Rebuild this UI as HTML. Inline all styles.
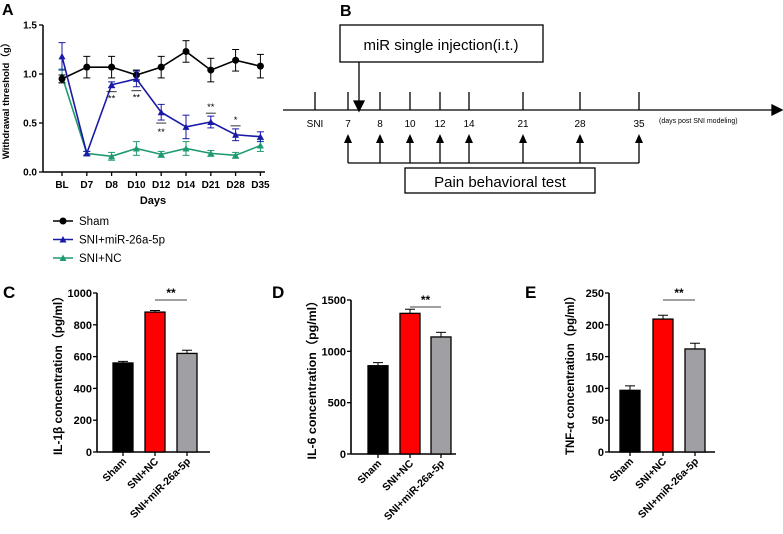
<!DOCTYPE html>
<html><head><meta charset="utf-8"><style>
body{margin:0;background:#fff;width:783px;height:534px;overflow:hidden}
svg{display:block;font-family:"Liberation Sans",Arial,sans-serif}
.b{font-weight:bold}
</style></head><body>
<svg id="s" width="783" height="534" viewBox="0 0 783 534" xmlns="http://www.w3.org/2000/svg">
<g stroke="#000" fill="none" stroke-width="1.3">
<rect x="340" y="25" width="203" height="37"/>
<line x1="359" y1="62" x2="359" y2="104"/>
<polygon points="354,101 364,101 359,111" fill="#000"/>
<line x1="283" y1="110" x2="775" y2="110"/>
<polygon points="772,105 782,110 772,115" fill="#000"/>
<line x1="348" y1="163" x2="639" y2="163"/>
<rect x="405" y="168" width="190" height="25"/>
</g>
<text x="340" y="16" font-size="16" class="b">B</text>
<text x="441" y="50" text-anchor="middle" font-size="15">miR single injection(i.t.)</text>
<text x="500" y="187" text-anchor="middle" font-size="15">Pain behavioral test</text>
<text x="659" y="123" font-size="7">(days post SNI modeling)</text>
<g id="tl"></g>
<g id="A"></g><g id="C"></g><g id="D"></g><g id="E"></g>
</svg>
<script>
const NS="http://www.w3.org/2000/svg";
function mk(p,t,a,txt){const e=document.createElementNS(NS,t);for(const k in a)e.setAttribute(k,a[k]);if(txt!==undefined)e.textContent=txt;p.appendChild(e);return e;}
// timeline
const tlLabels=["SNI","7","8","10","12","14","21","28","35"];
const tlX=[315,348,380,410,440,469,523,580,639];
const tl=document.getElementById('tl');
tlLabels.forEach((l,i)=>{
 const ln=mk(tl,'line',{x1:tlX[i],y1:92,x2:tlX[i],y2:110,stroke:'#000','stroke-width':1.3});
 
 
 const t=mk(tl,'text',{x:tlX[i],y:127,'text-anchor':'middle','font-size':10},l);
 
 
 if(i>0){
  const a=mk(tl,'line',{x1:tlX[i],y1:163,x2:tlX[i],y2:140,stroke:'#000','stroke-width':1.3});
  
  
  mk(tl,'polygon',{points:`${tlX[i]-4},143 ${tlX[i]+4},143 ${tlX[i]},134`,fill:'#000'});
 }
});

// Panel A data
const days=["BL","D7","D8","D10","D12","D14","D21","D28","D35"];
const sham=[0.95,1.07,1.07,0.99,1.07,1.23,1.04,1.14,1.08];
const shamErr=[0.04,0.11,0.11,0.05,0.11,0.11,0.12,0.11,0.12];
const mir=[1.18,0.19,0.89,0.95,0.61,0.46,0.51,0.38,0.36];
const mirErr=[0.14,0.02,0.03,0.08,0.08,0.12,0.06,0.06,0.05];
const nc=[0.98,0.19,0.16,0.24,0.18,0.24,0.19,0.17,0.27];
const ncErr=[0.07,0.02,0.04,0.07,0.03,0.07,0.03,0.03,0.06];
const aTicks=[0,0.5,1.0,1.5];
const sig=[["",0],["",0],["**",1],["**",1],["**",-1],["",0],["**",1],["*",1],["",0]];

const A=document.getElementById('A');
const ax=i=>62+i*24.8, ay=v=>172-v*98;
mk(A,'text',{x:2,y:15,'font-size':16,'class':'b'},'A');
mk(A,'line',{x1:43,y1:ay(1.5),x2:43,y2:172,stroke:'#000','stroke-width':1.5});
mk(A,'line',{x1:43,y1:172,x2:265,y2:172,stroke:'#000','stroke-width':1.5});
aTicks.forEach(v=>{mk(A,'line',{x1:39,y1:ay(v),x2:43,y2:ay(v),stroke:'#000','stroke-width':1.3});
 const t=mk(A,'text',{x:37,y:ay(v)+3.5,'text-anchor':'end','font-size':10,'class':'b'},v.toFixed(1));
 });
days.forEach((d,i)=>{mk(A,'line',{x1:ax(i),y1:172,x2:ax(i),y2:176,stroke:'#000','stroke-width':1.3});
 const t=mk(A,'text',{x:ax(i),y:188,'text-anchor':'middle','font-size':10,'class':'b'},d);
 });
const at=mk(A,'text',{x:153,y:204,'text-anchor':'middle','font-size':11,'class':'b'},'Days');

const yt=mk(A,'text',{x:0,y:0,'text-anchor':'middle','font-size':9.5,'class':'b',transform:`translate(9,${ay(0.75)}) rotate(-90)`},'Withdrawal threshold\uFF08g\uFF09');

function series(vals,errs,col,shape,name){
 const g=mk(A,'g',{});
 
 vals.forEach((v,i)=>{const e=errs[i];
  mk(g,'line',{x1:ax(i),y1:ay(v-e),x2:ax(i),y2:ay(v+e),stroke:col,'stroke-width':1});
  mk(g,'line',{x1:ax(i)-3.5,y1:ay(v-e),x2:ax(i)+3.5,y2:ay(v-e),stroke:col,'stroke-width':1});
  mk(g,'line',{x1:ax(i)-3.5,y1:ay(v+e),x2:ax(i)+3.5,y2:ay(v+e),stroke:col,'stroke-width':1});});
 mk(g,'polyline',{points:vals.map((v,i)=>ax(i)+','+ay(v)).join(' '),fill:'none',stroke:col,'stroke-width':1.6});
 vals.forEach((v,i)=>{
  if(shape==='c')mk(g,'circle',{cx:ax(i),cy:ay(v),r:3.5,fill:col});
  else mk(g,'polygon',{points:`${ax(i)-3.5},${ay(v)+3} ${ax(i)+3.5},${ay(v)+3} ${ax(i)},${ay(v)-3.5}`,fill:col});});
}
series(nc,ncErr,'#1f9a6e','t','series-sni-nc');
series(sham,shamErr,'#000','c','series-sham');
series(mir,mirErr,'#1a1aa8','t','series-sni-mir');
sig.forEach((s,i)=>{if(!s[0])return;const e=mirErr[i];
 let ly,ty; if(s[1]>0){ly=ay(mir[i]-e)+4;ty=ly+10;} else {ly=ay(mir[i]-e)+3;ty=ly+12;}
 if(i===6||i===7){ly=ay(mir[i]+e)-3;ty=ly-3;}
 mk(A,'line',{x1:ax(i)-5,y1:ly,x2:ax(i)+5,y2:ly,stroke:'#000','stroke-width':0.8});
 const t=mk(A,'text',{x:ax(i),y:ty,'text-anchor':'middle','font-size':9.5},s[0]);
 });
const leg=[["Sham",'#000','c'],["SNI+miR-26a-5p",'#1a1aa8','t'],["SNI+NC",'#1f9a6e','t']];
leg.forEach((l,i)=>{const y=221+i*18.5;const g=mk(A,'g',{});
 
 mk(g,'line',{x1:53,y1:y,x2:73,y2:y,stroke:l[1],'stroke-width':1.6});
 if(l[2]==='c')mk(g,'circle',{cx:63,cy:y,r:3.5,fill:l[1]});else mk(g,'polygon',{points:`59.5,${y+3} 66.5,${y+3} 63,${y-3.5}`,fill:l[1]});
 mk(g,'text',{x:79,y:y+4,'font-size':11.5},l[0]);});

// Bar panels
const groups=["Sham","SNI+NC","SNI+miR-26a-5p"];
const colors=['#000','#ff0000','#a0a0a4'];
const ilb=[560,880,620], ilbErr=[10,10,20];
const il6=[860,1370,1140], il6Err=[30,40,45];
const tnf=[97,209,162], tnfErr=[7,6,9];
const ticksC=[0,200,400,600,800,1000], ticksD=[0,500,1000,1500], ticksE=[0,50,100,150,200,250];
function bars(id,letter,lx,x0,yTop,y0,max,vals,errs,ticks,title,bx,axEnd){
 const P=document.getElementById(id);
 const Y=v=>y0-(v/max)*(y0-yTop);
 const t0=mk(P,'text',{x:lx,y:298,'font-size':17,'class':'b'},letter);
 
 mk(P,'line',{x1:x0,y1:yTop,x2:x0,y2:y0,stroke:'#000','stroke-width':1.6});
 mk(P,'line',{x1:x0,y1:y0,x2:axEnd,y2:y0,stroke:'#000','stroke-width':1.6});
 ticks.forEach(v=>{mk(P,'line',{x1:x0-4,y1:Y(v),x2:x0,y2:Y(v),stroke:'#000','stroke-width':1.3});
  const t=mk(P,'text',{x:x0-5,y:Y(v)+4,'text-anchor':'end','font-size':11,'class':'b'},v);
  });
 const tt=mk(P,'text',{x:0,y:0,'text-anchor':'middle','font-size':12,'class':'b','textLength':165,'lengthAdjust':'spacingAndGlyphs',transform:`translate(${x0-35},${(yTop+y0)/2}) rotate(-90)`},title);
 
 vals.forEach((v,i)=>{const x=bx[i],w=20;
  const r=mk(P,'rect',{x:x,y:Y(v),width:w,height:y0-Y(v),fill:colors[i],stroke:'#000','stroke-width':1.3});
  
  
  const c=x+w/2,e=errs[i];
  mk(P,'line',{x1:c,y1:Y(v),x2:c,y2:Y(v+e),stroke:'#000','stroke-width':1});
  mk(P,'line',{x1:c-5,y1:Y(v+e),x2:c+5,y2:Y(v+e),stroke:'#000','stroke-width':1});
  mk(P,'line',{x1:c,y1:y0,x2:c,y2:y0+4,stroke:'#000','stroke-width':1.3});
  const t=mk(P,'text',{x:0,y:0,'text-anchor':'end','font-size':10.5,'class':'b',transform:`translate(${c+4},${y0+10}) rotate(-45)`},groups[i]);
  });
 const c1=bx[1]+10,c2=bx[2]+10;
 mk(P,'line',{x1:c1,y1:yTop+7,x2:c2,y2:yTop+7,stroke:'#000','stroke-width':0.8});
 const s=mk(P,'text',{x:(c1+c2)/2,y:yTop+4,'text-anchor':'middle','font-size':12,'class':'b'},'**');
 
}
bars('C','C',3,97,293,452,1000,ilb,ilbErr,ticksC,'IL-1\u03B2 concentration\uFF08pg/ml\uFF09',[113,145,177],210);
bars('D','D',272,351,300,454,1500,il6,il6Err,ticksD,'IL-6 concentration\uFF08pg/ml\uFF09',[368,400,431],456);
bars('E','E',525,609,293,452,250,tnf,tnfErr,ticksE,'TNF-\u03B1 concentration\uFF08pg/ml\uFF09',[620,653,685],715);
</script>
</body></html>
